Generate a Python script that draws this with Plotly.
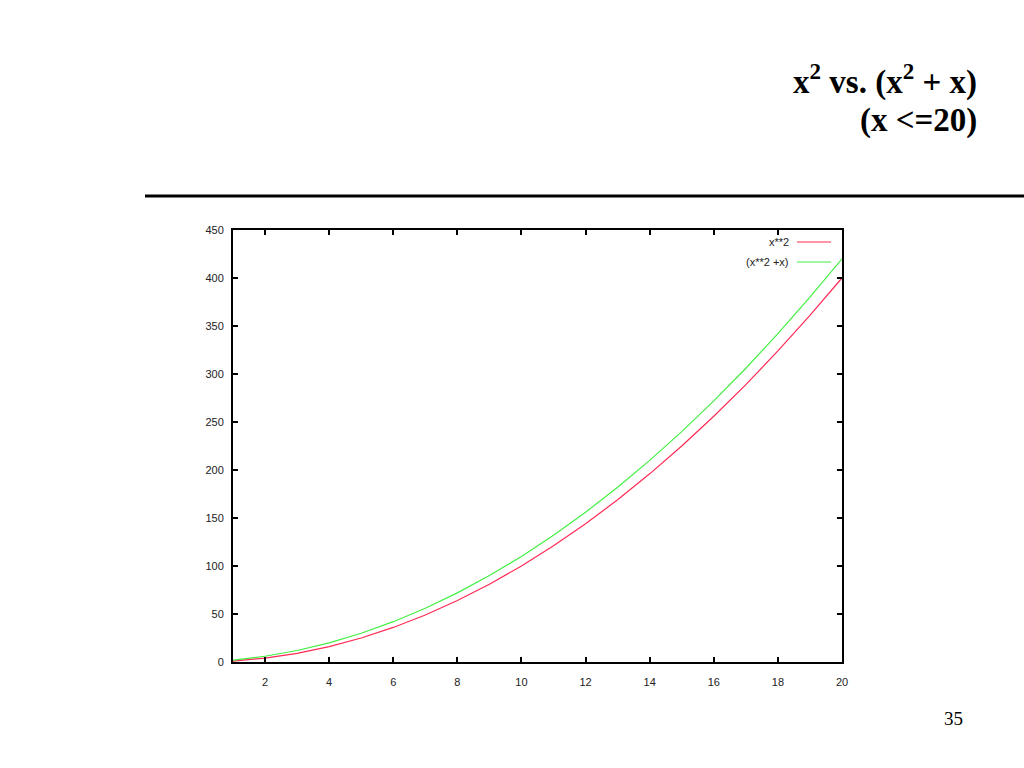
import plotly.graph_objects as go

x_vals = [1, 2, 3, 4, 5, 6, 7, 8, 9, 10, 11, 12, 13, 14, 15, 16, 17, 18, 19, 20]
sq_vals = [1, 4, 9, 16, 25, 36, 49, 64, 81, 100, 121, 144, 169, 196, 225, 256, 289, 324, 361, 400]
sq_plus_x_vals = [2, 6, 12, 20, 30, 42, 56, 72, 90, 110, 132, 156, 182, 210, 240, 272, 306, 342, 380, 420]
series_names = ["x**2", "(x**2 +x)"]
series_colors = ["#ff2a55", "#44ee44"]
x_ticks = [2, 4, 6, 8, 10, 12, 14, 16, 18, 20]
y_ticks = [0, 50, 100, 150, 200, 250, 300, 350, 400, 450]

W, H = 1024, 768
L, R, T, B = 233, 182, 230, 106

fig = go.Figure()
for ys, name, col in zip([sq_vals, sq_plus_x_vals], series_names, series_colors):
    fig.add_trace(go.Scatter(x=x_vals, y=ys, mode="lines", name=name,
                             line=dict(color=col, width=1.2), showlegend=False))

tick_font = dict(family="Liberation Sans, Arial, sans-serif", size=11, color="#222222")
fig.update_xaxes(range=[1, 20], tickvals=x_ticks, ticks="inside", ticklen=5, tickwidth=2,
                 tickcolor="black", showline=True, linewidth=2, linecolor="black",
                 mirror="ticks", showgrid=False, zeroline=False, tickfont=tick_font,
                 ticklabelstandoff=9)
fig.update_yaxes(range=[0, 450], tickvals=y_ticks, ticks="inside", ticklen=5, tickwidth=2,
                 tickcolor="black", showline=True, linewidth=2, linecolor="black",
                 mirror="ticks", showgrid=False, zeroline=False, tickfont=tick_font,
                 ticklabelstandoff=5)

pw = W - L - R
ph = H - T - B
def px_to_paper(px, py):
    return (px - L) / pw, 1 - (py - T) / ph

annotations = []
shapes = []
# gnuplot-style legend (text left, sample right)
for i, (name, col) in enumerate(zip(series_names, series_colors)):
    yy = 242 + i * 20
    xa, ya = px_to_paper(791, yy)
    annotations.append(dict(x=xa, y=ya, xref="paper", yref="paper", text=name,
                            showarrow=False, xanchor="right", yanchor="middle",
                            font=tick_font))
    x0, y0 = px_to_paper(797, yy)
    x1, _ = px_to_paper(831, yy)
    shapes.append(dict(type="line", xref="paper", yref="paper", x0=x0, x1=x1, y0=y0, y1=y0,
                       line=dict(color=col, width=1.2)))

title_font = dict(family="Liberation Serif, Times New Roman, serif", size=33, color="black")
tx, ty1 = px_to_paper(979, 80)
_, ty2 = px_to_paper(979, 121)
annotations.append(dict(x=tx, y=ty1, xref="paper", yref="paper",
                        text="<b>x<sup>2</sup> vs. (x<sup>2</sup> + x)</b>", showarrow=False,
                        xanchor="right", yanchor="middle", font=title_font))
annotations.append(dict(x=tx, y=ty2, xref="paper", yref="paper",
                        text="<b>(x &lt;=20)</b>", showarrow=False,
                        xanchor="right", yanchor="middle", font=title_font))
nx, ny = px_to_paper(953, 718)
annotations.append(dict(x=nx, y=ny, xref="paper", yref="paper",
                        text="35", showarrow=False, xanchor="center", yanchor="middle",
                        font=dict(family="Liberation Serif, Times New Roman, serif", size=19,
                                  color="black")))
# horizontal rule under the title
x0r, yr = px_to_paper(145, 196)
x1r, _ = px_to_paper(1024, 196)
shapes.append(dict(type="line", xref="paper", yref="paper", x0=x0r, x1=x1r, y0=yr, y1=yr,
                   line=dict(color="black", width=3)))

fig.update_layout(width=W, height=H, margin=dict(l=L, r=R, t=T, b=B, pad=0),
                  paper_bgcolor="white", plot_bgcolor="white",
                  annotations=annotations, shapes=shapes)

fig.write_html("out.html", config={"displayModeBar": False},
               post_script="document.body.style.margin='0';document.body.style.overflow='hidden';")
